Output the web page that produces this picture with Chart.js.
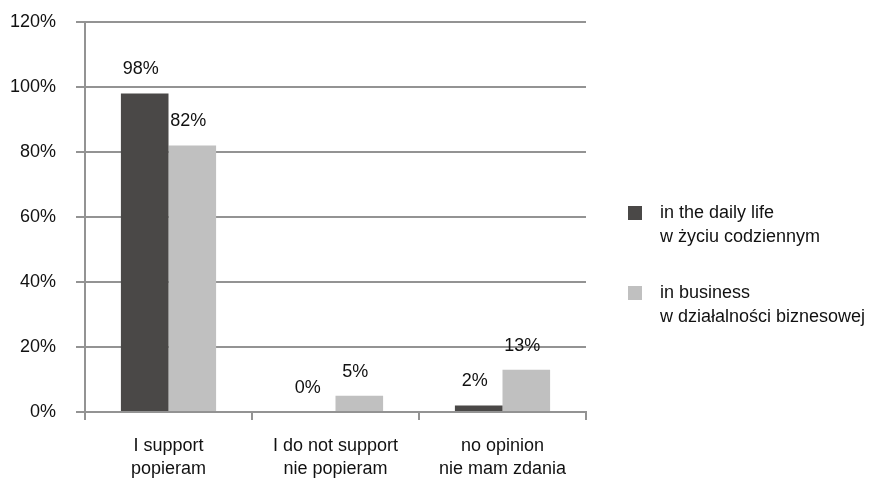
<!DOCTYPE html>
<html>
<head>
<meta charset="utf-8">
<script src="https://cdn.jsdelivr.net/npm/chart.js@4"></script>
<style>
  html, body { margin: 0; padding: 0; background: #fff; }
  #box { width: 873px; height: 480px; }
</style>
</head>
<body>
<div id="box"><canvas id="wykres"></canvas></div>
<script>
// dane z wykresu
const kategorie = [
  ["I support", "popieram"],
  ["I do not support", "nie popieram"],
  ["no opinion", "nie mam zdania"]
];
const serie = [
  ["in the daily life", "w życiu codziennym"],
  ["in business", "w działalności biznesowej"]
];
const codziennie = [98, 0, 2];
const biznes = [82, 5, 13];

const CIEMNY = "#4a4847";
const JASNY = "#c0c0c0";
const SIATKA = "#939393";
const FONT = "'Liberation Sans', Arial, sans-serif";

// etykiety nad slupkami
const etykiety = {
  id: "etykiety",
  afterDatasetsDraw(chart) {
    const ctx = chart.ctx;
    ctx.save();
    ctx.font = "18px " + FONT;
    ctx.fillStyle = "#111";
    ctx.textAlign = "center";
    ctx.textBaseline = "middle";
    chart.data.datasets.forEach((ds, i) => {
      chart.getDatasetMeta(i).data.forEach((bar, j) => {
        ctx.fillText(ds.data[j] + "%", bar.x - 4, bar.y - 24);
      });
    });
    ctx.restore();
  }
};

// legenda po prawej, dwie linie tekstu
const legenda = {
  id: "legenda",
  afterDraw(chart) {
    const ctx = chart.ctx;
    ctx.save();
    ctx.font = "18px " + FONT;
    ctx.textAlign = "left";
    ctx.textBaseline = "middle";
    const kolory = [CIEMNY, JASNY];
    serie.forEach((linie, i) => {
      const y = 213 + i * 80;
      ctx.fillStyle = kolory[i];
      ctx.fillRect(628, y - 7, 14, 14);
      ctx.fillStyle = "#111";
      linie.forEach((t, k) => ctx.fillText(t, 660, y + k * 24));
    });
    ctx.restore();
  }
};

const CHART = document.querySelector("#wykres");

let slupki = new Chart(CHART, {
  type: "bar",
  data: {
    labels: kategorie,
    datasets: [
      {
        label: serie[0].join(" "),
        backgroundColor: CIEMNY,
        data: codziennie,
      },
      {
        label: serie[1].join(" "),
        backgroundColor: JASNY,
        data: biznes,
      },
    ],
  },
  options: {
    responsive: true,
    maintainAspectRatio: false,
    animation: false,
    categoryPercentage: 0.57,
    barPercentage: 1,
    layout: {
      padding: { top: 22, right: 287, bottom: 0, left: 0 },
    },
    scales: {
      x: {
        grid: {
          drawOnChartArea: false,
          drawTicks: true,
          tickLength: 8,
          color: SIATKA,
          lineWidth: 2,
        },
        border: { color: SIATKA, width: 2 },
        ticks: {
          color: "#111",
          font: { family: FONT, size: 18, lineHeight: 1.3 },
          padding: 14,
          maxRotation: 0,
        },
        afterFit(scale) { scale.height = 68; },
      },
      y: {
        min: 0,
        max: 120,
        grid: {
          color: SIATKA,
          lineWidth: 2,
          tickLength: 9,
        },
        border: { color: SIATKA, width: 2 },
        ticks: {
          stepSize: 20,
          color: "#111",
          font: { family: FONT, size: 18 },
          padding: 20,
          callback: (v) => v + "%",
        },
        afterFit(scale) {
          scale.width = 85;
          scale.paddingTop = 0;
          scale.paddingBottom = 0;
        },
      },
    },
    plugins: {
      legend: { display: false },
      tooltip: { enabled: false },
    },
  },
  plugins: [etykiety, legenda],
});
</script>
</body>
</html>
